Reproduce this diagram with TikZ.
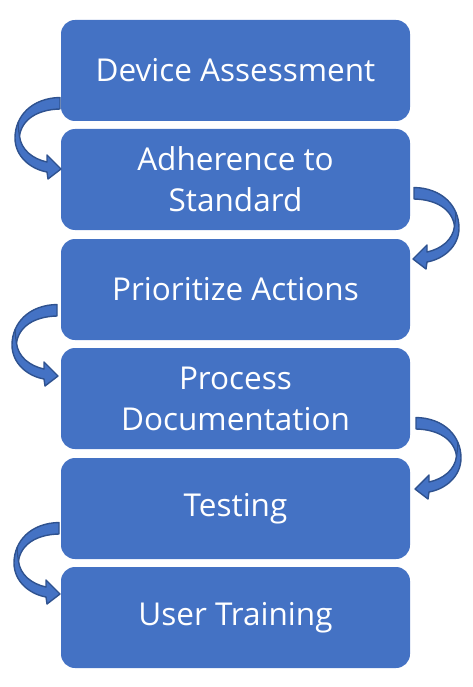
\documentclass[tikz,border=0pt]{standalone}
\usepackage{fontspec}
\setmainfont{Open Sans}
\definecolor{boxblue}{HTML}{4472C4}
\definecolor{arrowline}{HTML}{2F528F}
\tikzset{
  stepbox/.style={fill=boxblue, draw=none, rounded corners=14pt, minimum width=349pt, minimum height=101pt, text=white, align=center, font=\fontsize{31.5}{41}\selectfont, inner sep=0pt},
  curvearrow/.style={fill=boxblue, draw=arrowline, line width=1.4pt, line join=round}
}
\newcommand{\leftcurve}{%
  \path[curvearrow] (60,97.5) .. controls (32,98) and (15,116) .. (15,138)
     .. controls (15,156) and (30,169) .. (47,172)
     -- (48,179) -- (61,169) -- (47,155) -- (47,162)
     .. controls (33,159) and (21,150) .. (19.5,136)
     .. controls (22,119) and (38,109.5) .. (60,109) -- cycle;
  \draw[arrowline, line width=1.2pt] (19.5,136) .. controls (18.5,130) and (18,126) .. (18.5,122);
}
\begin{document}
\begin{tikzpicture}[x=1pt,y=-1pt]
\useasboundingbox (0,0) rectangle (472,687);
\node[stepbox] (b1) at (235.5,70.5) {Device Assessment};
\node[stepbox] (b2) at (235.5,179.5) {Adherence to\\Standard};
\node[stepbox] (b3) at (235.5,289.5) {Prioritize Actions};
\node[stepbox] (b4) at (235.5,398.5) {Process\\Documentation};
\node[stepbox] (b5) at (235.5,508.5) {Testing};
\node[stepbox] (b6) at (235.5,617.5) {User Training};
% left arrows
\begin{scope}\leftcurve\end{scope}
\begin{scope}[shift={(-3,207)}]\leftcurve\end{scope}
\begin{scope}[shift={(-1,425)}]\leftcurve\end{scope}
% right arrows (mirrored)
\begin{scope}[shift={(474,90)}, xscale=-1]\leftcurve\end{scope}
\begin{scope}[shift={(476,320)}, xscale=-1]\leftcurve\end{scope}
\end{tikzpicture}
\end{document}
